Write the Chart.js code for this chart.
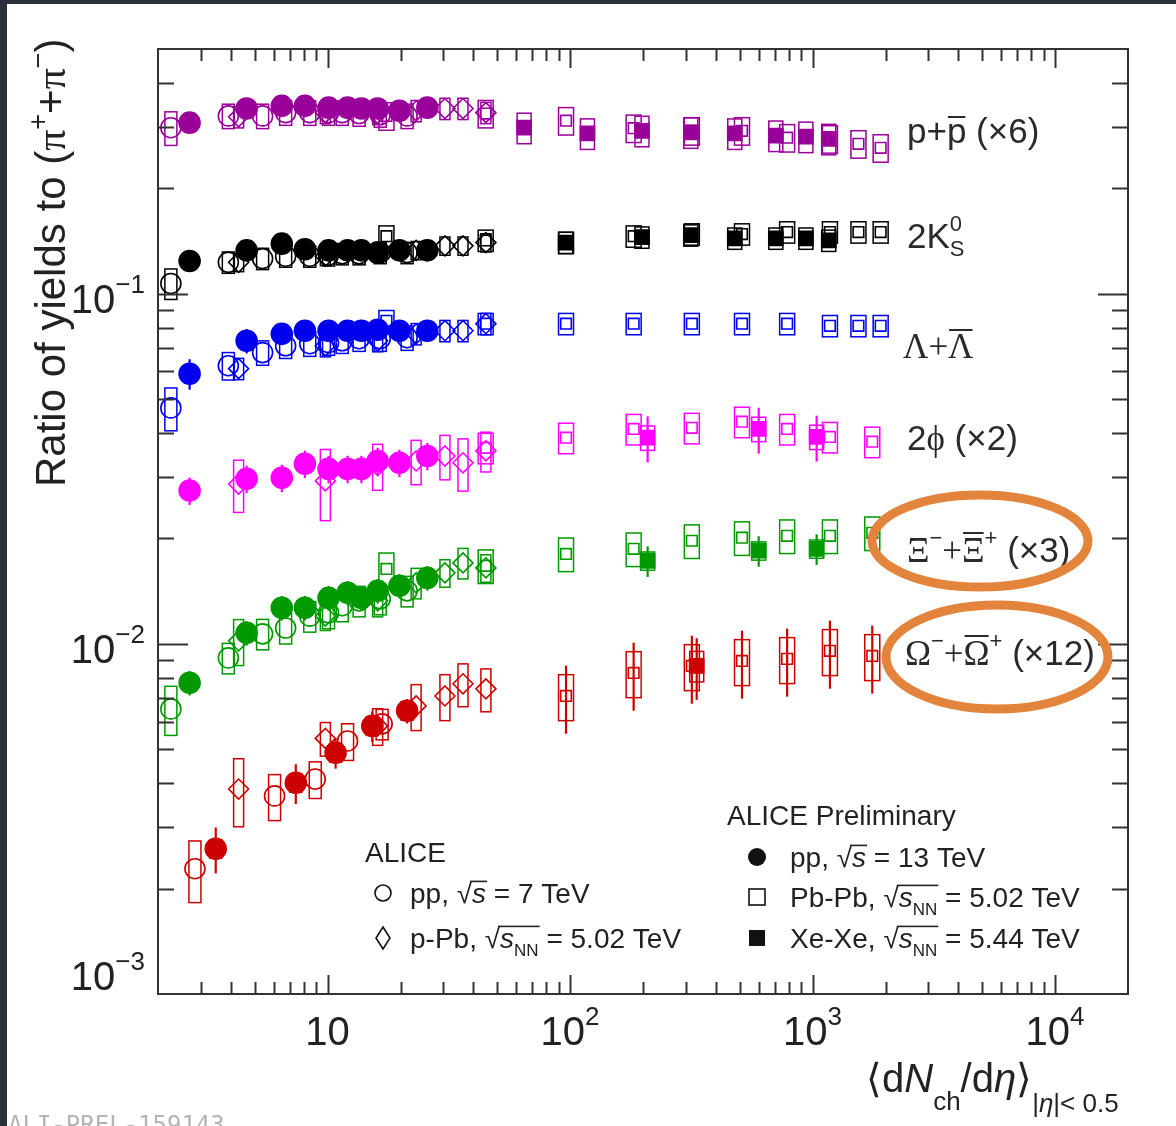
<!DOCTYPE html>
<html>
<head>
<meta charset="utf-8">
<script src="https://cdn.jsdelivr.net/npm/chart.js@4.4.1/dist/chart.umd.min.js"></script>
<style>
  html, body { margin: 0; padding: 0; background: #fff; }
  canvas { display: block; }
</style>
</head>
<body>
<canvas id="ratioChart" width="1176" height="1126"></canvas>
<script>
// ── multiplicity classes  <dNch/deta>
const multPP13 = [2.7, 4.64, 6.48, 8.07, 10.1, 12.1, 13.8, 16.1, 19.8, 25.8];
const multPP7 = [2.26, 3.90, 5.40, 6.72, 8.45, 10.1, 11.5, 13.5, 16.5, 21.3];
const multPPb = [4.3, 9.8, 16.1, 23.2, 30.5, 36.2, 45.0];
const multPbPb = [17.5, 44.9, 96.3, 183, 318, 512, 786, 1180, 1547, 1910];
const multPbPbMerged = [17.5, 44.9, 96.3, 183, 318, 512, 786, 1180, 1764];
const multXeXe = [64.7, 118, 198, 315, 478, 706, 939, 1167];
const multXeXeK0 = [96, 198, 315, 478, 706, 939, 1167];
const multXeXeWide = [209, 600, 1040];
const multOmegaPP13 = [3.46, 7.4, 10.8, 15.3, 21.3];
const multOmegaPP7 = [2.84, 6.05, 8.9, 12.1, 16.8];
const multOmegaPbPb = [96.3, 183, 318, 512, 786, 1180, 1764];
const multOmegaXeXe = [333];

// ── p + pbar (x6)
const protonPP13 = [0.308, 0.338, 0.344, 0.344, 0.340, 0.340, 0.338, 0.338, 0.333, 0.340];
const protonPP7 = [0.298, 0.322, 0.322, 0.329, 0.329, 0.329, 0.329, 0.327, 0.325, 0.322];
const protonPPb = [0.320, 0.329, 0.327, 0.333, 0.338, 0.338, 0.329];
const protonPbPb = [0.322, 0.327, 0.312, 0.297, 0.292, 0.292, 0.279, 0.277, 0.268, 0.261];
const protonXeXe = [0.298, 0.287, 0.292, 0.289, 0.287, 0.283, 0.281, 0.277];

// ── 2 K0S
const kaonPP13 = [0.124, 0.133, 0.139, 0.134, 0.133, 0.133, 0.133, 0.131, 0.133, 0.133];
const kaonPP7 = [0.107, 0.123, 0.126, 0.128, 0.128, 0.129, 0.130, 0.130, 0.131, 0.131];
const kaonPPb = [0.123, 0.128, 0.131, 0.133, 0.137, 0.137, 0.140];
const kaonPbPb = [0.146, 0.142, 0.140, 0.146, 0.148, 0.148, 0.150, 0.150, 0.150, 0.150];
const kaonXeXe = [0.140, 0.145, 0.147, 0.144, 0.144, 0.144, 0.142];

// ── Lambda + anti-Lambda
const lambdaPP13 = [0.0591, 0.0734, 0.0768, 0.0784, 0.0784, 0.0784, 0.0784, 0.0789, 0.0784, 0.0784];
const lambdaPP7 = [0.0472, 0.0623, 0.0679, 0.0710, 0.0720, 0.0725, 0.0734, 0.0744, 0.0744, 0.0749];
const lambdaPPb = [0.0611, 0.0710, 0.0734, 0.0768, 0.0784, 0.0784, 0.0821];
const lambdaPbPb = [0.0837, 0.0821, 0.0821, 0.0821, 0.0821, 0.0821, 0.0821, 0.0810, 0.0810, 0.0810];

// ── 2 phi (x2)
const phiPP13 = [0.0274, 0.0296, 0.0298, 0.0327, 0.0316, 0.0316, 0.0316, 0.0333, 0.0329, 0.0344];
const phiPPb = [0.0286, 0.0292, 0.0323, 0.0333, 0.0344, 0.0329, 0.0356];
const phiPPbSys = [0.17, 0.23, 0.15, 0.145, 0.145, 0.17, 0.13];
const phiPbPb = [null, 0.0363, 0.0388, 0.0411, 0.0414, 0.0431, 0.0411, 0.0390, 0.0378];
const phiXeXe = [0.0388, 0.0411, 0.0390];

// ── Xi (x3)
const xiPP13 = [0.00774, 0.01075, 0.01268, 0.01268, 0.01353, 0.0140, 0.01353, 0.01417, 0.01465, 0.01543];
const xiPP7 = [0.00652, 0.00912, 0.01068, 0.0111, 0.0120, 0.01227, 0.01285, 0.01327, 0.01345, 0.01417];
const xiPPb = [0.0102, 0.0120, 0.01327, 0.01494, 0.01595, 0.01703, 0.01648];
const xiPbPb = [0.01637, 0.01671, 0.01807, 0.01868, 0.0197, 0.0201, 0.02035, 0.02035, 0.02075];
const xiXeXe = [0.01726, 0.01845, 0.01868];

// ── Omega (x12)
const omegaPP13 = [0.00260, 0.00401, 0.00489, 0.00583, 0.00644];
const omegaPP13Stat = [0.15, 0.13, 0.1, 0.1, 0.08];
const omegaPP7 = [0.00228, 0.00368, 0.00411, 0.00528, 0.00591];
const omegaPP7Sys = [0.2, 0.15, 0.12, 0.12, 0.1];
const omegaPPb = [0.00385, 0.00537, 0.00583, 0.00665, 0.00710, 0.00769, 0.00744];
const omegaPPbSys = [0.22, 0.11, 0.12, 0.15, 0.15, 0.14, 0.14];
const omegaPbPb = [0.00710, 0.00826, 0.00865, 0.00894, 0.00906, 0.00955, 0.00924];
const omegaXeXe = [0.00865];

// ── axis ticks
const xLabelExps = [1, 2, 3, 4];
const yLabelExps = [-1, -2, -3];

const SANS = '"Liberation Sans", Arial, Helvetica, sans-serif';
const SERIF = '"Liberation Serif", "Times New Roman", serif';

const COLORS = {
  proton: '#990099', kaon: '#000000', lambda: '#0000ee',
  phi: '#ff00ff', xi: '#009900', omega: '#cc0000'
};

const STYLE = {
  pp13: { shape: 'circle', filled: true, r: 10.5, box: 12 },
  XeXe: { shape: 'rect', filled: true, r: 10, box: 14 },
  pPb:  { shape: 'rectRot', filled: false, r: 10, box: 10 },
  pp7:  { shape: 'circle', filled: false, r: 10, box: 12 },
  PbPb: { shape: 'rect', filled: false, r: 7.5, box: 15 }
};

// [color, system, x, y, stat, sys]
const SERIES = [
  ['proton', 'pp13', multPP13, protonPP13, 0.05, 0.04],
  ['kaon', 'pp13', multPP13, kaonPP13, 0.04, 0.04],
  ['lambda', 'pp13', multPP13, lambdaPP13, [0.1, 0.08, 0.06, 0.06, 0.06, 0.06, 0.06, 0.06, 0.06, 0.06], 0.04],
  ['phi', 'pp13', multPP13, phiPP13, 0.09, 0.05],
  ['xi', 'pp13', multPP13, xiPP13, 0.08, 0.05],
  ['omega', 'pp13', multOmegaPP13, omegaPP13, omegaPP13Stat, 0.06],

  ['proton', 'XeXe', multXeXe, protonXeXe, 0.03, 0.1],
  ['kaon', 'XeXe', multXeXeK0, kaonXeXe, 0.03, 0.07],
  ['phi', 'XeXe', multXeXeWide, phiXeXe, 0.15, 0.08],
  ['xi', 'XeXe', multXeXeWide, xiXeXe, 0.1, 0.06],
  ['omega', 'XeXe', multOmegaXeXe, omegaXeXe, 0.2, 0.1],

  ['proton', 'pPb', multPPb, protonPPb, 0, 0.07],
  ['kaon', 'pPb', multPPb, kaonPPb, 0, 0.06],
  ['lambda', 'pPb', multPPb, lambdaPPb, 0, 0.07],
  ['phi', 'pPb', multPPb, phiPPb, 0, phiPPbSys],
  ['xi', 'pPb', multPPb, xiPPb, 0, [0.15, 0.09, 0.1, 0.1, 0.09, 0.1, 0.09]],
  ['omega', 'pPb', multPPb, omegaPPb, 0, omegaPPbSys],

  ['proton', 'pp7', multPP7, protonPP7, 0, [0.11, 0.08, 0.08, 0.08, 0.08, 0.08, 0.08, 0.08, 0.08, 0.08]],
  ['kaon', 'pp7', multPP7, kaonPP7, 0, [0.1, 0.07, 0.07, 0.07, 0.07, 0.07, 0.07, 0.07, 0.07, 0.07]],
  ['lambda', 'pp7', multPP7, lambdaPP7, 0, [0.14, 0.09, 0.08, 0.08, 0.08, 0.08, 0.08, 0.08, 0.08, 0.08]],
  ['xi', 'pp7', multPP7, xiPP7, 0, [0.16, 0.1, 0.1, 0.1, 0.1, 0.1, 0.1, 0.1, 0.1, 0.1]],
  ['omega', 'pp7', multOmegaPP7, omegaPP7, 0, omegaPP7Sys],

  ['proton', 'PbPb', multPbPb, protonPbPb, 0, 0.09],
  ['kaon', 'PbPb', multPbPb, kaonPbPb, 0, 0.07],
  ['lambda', 'PbPb', multPbPb, lambdaPbPb, 0, 0.07],
  ['phi', 'PbPb', multPbPbMerged, phiPbPb, 0, 0.1],
  ['xi', 'PbPb', multPbPbMerged, xiPbPb, 0, 0.11],
  ['omega', 'PbPb', multOmegaPbPb, omegaPbPb, 0.22, 0.15]
];

const at = (v, i) => Array.isArray(v) ? v[i] : v;

const datasets = SERIES.map(([key, sys, xs, ys, stat, sysErr]) => {
  const st = STYLE[sys];
  const color = COLORS[key];
  return {
    data: xs.map((x, i) => ({ x, y: ys[i] })),
    err: xs.map((x, i) => [at(stat, i), at(sysErr, i)]),
    boxW: st.box,
    errColor: color,
    pointStyle: st.shape,
    pointRadius: st.r,
    pointHoverRadius: st.r,
    pointBorderWidth: 1.6,
    pointBorderColor: color,
    pointBackgroundColor: st.filled ? color : 'rgba(0,0,0,0)',
    showLine: false
  };
});

// ── rich text helper (sup/sub/overline)
function drawRich(ctx, x, y, parts) {
  let cx = x;
  parts.forEach(p => {
    ctx.font = p.f;
    const w = ctx.measureText(p.t).width;
    ctx.fillText(p.t, cx, y + (p.dy || 0));
    if (p.over !== undefined) ctx.fillRect(cx + 1, y + p.over, w - 2, 2);
    if (!p.hold) cx += w;
  });
  return cx;
}

function sqrtS(ctx, x, y, size, nn) {
  ctx.font = `${size}px ${SANS}`;
  ctx.fillText('√', x, y);
  const wr = ctx.measureText('√').width;
  let cx = x + wr;
  ctx.font = `italic ${size}px ${SANS}`;
  ctx.fillText('s', cx, y);
  cx += ctx.measureText('s').width;
  if (nn) {
    ctx.font = `${Math.round(size * 0.6)}px ${SANS}`;
    ctx.fillText('NN', cx, y + size * 0.28);
    cx += ctx.measureText('NN').width;
  }
  ctx.fillRect(x + wr - 2, y - size * 0.8, cx - x - wr + 3, 1.6);
  return cx;
}

function powLabel(ctx, exp, x, y, align) {
  const big = `40px ${SANS}`, small = `26px ${SANS}`;
  const sup = exp === 1 ? '' : (exp < 0 ? '−' + (-exp) : String(exp));
  ctx.font = big; const w1 = ctx.measureText('10').width;
  ctx.font = small; const w2 = sup ? ctx.measureText(sup).width : 0;
  let x0 = x;
  if (align === 'right') x0 = x - w1 - w2;
  if (align === 'center') x0 = x - (w1 + w2) / 2;
  ctx.font = big; ctx.fillText('10', x0, y);
  if (sup) { ctx.font = small; ctx.fillText(sup, x0 + w1, y - 20); }
}

// ── error boxes and stat bars
const errorPlugin = {
  id: 'errorBoxes',
  beforeDatasetsDraw(chart) {
    const { ctx, chartArea } = chart;
    const xs = chart.scales.x, ys = chart.scales.y;
    ctx.save();
    ctx.beginPath();
    ctx.rect(chartArea.left, chartArea.top, chartArea.width, chartArea.height);
    ctx.clip();
    chart.data.datasets.forEach(ds => {
      ds.data.forEach((p, i) => {
        if (p.y === null) return;
        const [stat, sys] = ds.err[i];
        const px = xs.getPixelForValue(p.x);
        ctx.strokeStyle = ds.errColor;
        if (sys) {
          const top = ys.getPixelForValue(p.y * (1 + sys));
          const bot = ys.getPixelForValue(p.y * (1 - sys));
          ctx.lineWidth = 1.5;
          ctx.strokeRect(px - ds.boxW / 2, top, ds.boxW, bot - top);
        }
        if (stat) {
          ctx.lineWidth = 2.2;
          ctx.beginPath();
          ctx.moveTo(px, ys.getPixelForValue(p.y * (1 + stat)));
          ctx.lineTo(px, ys.getPixelForValue(p.y * (1 - stat)));
          ctx.stroke();
        }
      });
    });
    ctx.restore();
  }
};

// ── frame, inward ticks, labels, annotations
const decorPlugin = {
  id: 'decor',
  beforeDraw(chart) {
    const ctx = chart.ctx;
    ctx.save();
    ctx.fillStyle = '#ffffff';
    ctx.fillRect(0, 0, chart.width, chart.height);
    ctx.fillStyle = '#29313b';
    ctx.fillRect(0, 0, chart.width, 4);
    ctx.fillRect(0, 0, 7, chart.height);
    ctx.restore();
  },
  afterDraw(chart) {
    const { ctx, chartArea: a } = chart;
    const xs = chart.scales.x, ys = chart.scales.y;
    ctx.save();
    ctx.strokeStyle = '#333';
    ctx.lineWidth = 2;
    ctx.strokeRect(a.left, a.top, a.right - a.left, a.bottom - a.top);

    // x ticks (bottom + top)
    for (let e = 0; e <= 4; e++) {
      for (let m = 1; m <= 9; m++) {
        const v = m * Math.pow(10, e);
        if (v <= xs.min * 1.01 || v >= xs.max * 0.99) continue;
        const px = Math.round(xs.getPixelForValue(v)) + 0.5;
        const len = m === 1 ? 19 : 12;
        ctx.beginPath();
        ctx.moveTo(px, a.bottom); ctx.lineTo(px, a.bottom - len);
        ctx.moveTo(px, a.top); ctx.lineTo(px, a.top + len);
        ctx.stroke();
      }
    }
    // y ticks (left + right)
    for (let e = -3; e <= -1; e++) {
      for (let m = 1; m <= 9; m++) {
        const v = m * Math.pow(10, e);
        if (v <= ys.min * 1.01 || v >= ys.max * 0.99) continue;
        const py = Math.round(ys.getPixelForValue(v)) + 0.5;
        const len = m === 1 ? 30 : 16;
        ctx.beginPath();
        ctx.moveTo(a.left, py); ctx.lineTo(a.left + len, py);
        ctx.moveTo(a.right, py); ctx.lineTo(a.right - len, py);
        ctx.stroke();
      }
    }

    // tick labels
    ctx.fillStyle = '#222';
    ctx.textBaseline = 'alphabetic';
    xLabelExps.forEach(e => {
      powLabel(ctx, e, xs.getPixelForValue(Math.pow(10, e)), a.bottom + 51, 'center');
    });
    yLabelExps.forEach(e => {
      const py = ys.getPixelForValue(Math.pow(10, e));
      powLabel(ctx, e, a.left - 13, e === -3 ? py - 4 : py + 19, 'right');
    });

    // y title
    ctx.save();
    ctx.translate(65, 487);
    ctx.rotate(-Math.PI / 2);
    const T = `42px ${SANS}`, TS = `42px ${SERIF}`, TT = `27px ${SANS}`;
    drawRich(ctx, 0, 0, [
      { t: 'Ratio of yields to (', f: T },
      { t: 'π', f: TS },
      { t: '+', f: TT, dy: -18 },
      { t: '+', f: T },
      { t: 'π', f: TS },
      { t: '−', f: TT, dy: -18 },
      { t: ')', f: T }
    ]);
    ctx.restore();

    // x title
    const XT = `40px ${SANS}`, XI = `italic 40px ${SANS}`, XS = `26px ${SANS}`, XSI = `italic 26px ${SANS}`;
    drawRich(ctx, 866, 1092, [
      { t: '⟨', f: XT },
      { t: 'd', f: XT },
      { t: 'N', f: XI },
      { t: 'ch', f: XS, dy: 18 },
      { t: '/d', f: XT },
      { t: 'η', f: XI },
      { t: '⟩', f: XT },
      { t: '|', f: XS, dy: 20 },
      { t: 'η', f: XSI, dy: 20 },
      { t: '|< 0.5', f: XS, dy: 20 }
    ]);

    // particle labels
    ctx.fillStyle = '#2a2a2a';
    const L = `35px ${SANS}`, LS = `35px ${SERIF}`, LX = `22px ${SANS}`;
    drawRich(ctx, 907, 143, [
      { t: 'p+', f: L }, { t: 'p', f: L, over: -27 }, { t: ' (×6)', f: L }
    ]);
    drawRich(ctx, 907, 248, [
      { t: '2K', f: L }, { t: '0', f: LX, dy: -17, hold: true }, { t: 'S', f: LX, dy: 8 }
    ]);
    drawRich(ctx, 903, 358, [
      { t: 'Λ+', f: LS }, { t: 'Λ', f: LS, over: -29 }
    ]);
    drawRich(ctx, 907, 450, [
      { t: '2', f: L }, { t: 'ϕ', f: LS }, { t: ' (×2)', f: L }
    ]);
    drawRich(ctx, 907, 562, [
      { t: 'Ξ', f: LS }, { t: '−', f: LX, dy: -17 }, { t: '+', f: LS },
      { t: 'Ξ', f: LS, over: -30 }, { t: '+', f: LX, dy: -17 }, { t: ' (×3)', f: L }
    ]);
    drawRich(ctx, 905, 665, [
      { t: 'Ω', f: LS }, { t: '−', f: LX, dy: -17 }, { t: '+', f: LS },
      { t: 'Ω', f: LS, over: -30 }, { t: '+', f: LX, dy: -17 }, { t: ' (×12)', f: L }
    ]);

    // legend
    const G = `28px ${SANS}`;
    ctx.fillStyle = '#222';
    ctx.strokeStyle = '#111';
    ctx.lineWidth = 1.6;
    ctx.font = G;
    ctx.fillText('ALICE', 365, 862);
    ctx.fillText('ALICE Preliminary', 727, 825);

    ctx.beginPath(); ctx.arc(383, 893, 8, 0, Math.PI * 2); ctx.stroke();
    let cx = drawRich(ctx, 410, 903, [{ t: 'pp, ', f: G }]);
    cx = sqrtS(ctx, cx, 903, 28, false);
    drawRich(ctx, cx, 903, [{ t: ' = 7 TeV', f: G }]);

    ctx.beginPath();
    ctx.moveTo(383, 927); ctx.lineTo(390, 938); ctx.lineTo(383, 949); ctx.lineTo(376, 938); ctx.closePath();
    ctx.stroke();
    cx = drawRich(ctx, 410, 948, [{ t: 'p-Pb, ', f: G }]);
    cx = sqrtS(ctx, cx, 948, 28, true);
    drawRich(ctx, cx, 948, [{ t: ' = 5.02 TeV', f: G }]);

    ctx.fillStyle = '#111';
    ctx.beginPath(); ctx.arc(757, 857, 9, 0, Math.PI * 2); ctx.fill();
    ctx.fillStyle = '#222';
    cx = drawRich(ctx, 790, 867, [{ t: 'pp, ', f: G }]);
    cx = sqrtS(ctx, cx, 867, 28, false);
    drawRich(ctx, cx, 867, [{ t: ' = 13 TeV', f: G }]);

    ctx.strokeRect(749, 889, 16, 16);
    cx = drawRich(ctx, 790, 907, [{ t: 'Pb-Pb, ', f: G }]);
    cx = sqrtS(ctx, cx, 907, 28, true);
    drawRich(ctx, cx, 907, [{ t: ' = 5.02 TeV', f: G }]);

    ctx.fillStyle = '#111';
    ctx.fillRect(749, 930, 16, 16);
    ctx.fillStyle = '#222';
    cx = drawRich(ctx, 790, 948, [{ t: 'Xe-Xe, ', f: G }]);
    cx = sqrtS(ctx, cx, 948, 28, true);
    drawRich(ctx, cx, 948, [{ t: ' = 5.44 TeV', f: G }]);

    // preliminary id, cut at the bottom
    ctx.fillStyle = '#b4b4b4';
    ctx.font = `24px "DejaVu Sans Mono", monospace`;
    ctx.fillText('ALI-PREL-159143', 8, 1133);

    // orange highlight rings
    ctx.strokeStyle = '#e3843d';
    ctx.lineWidth = 9;
    ctx.beginPath(); ctx.ellipse(980, 541, 108, 46, 0, 0, Math.PI * 2); ctx.stroke();
    ctx.beginPath(); ctx.ellipse(997, 657, 111, 52, 0, 0, Math.PI * 2); ctx.stroke();

    ctx.restore();
  }
};

new Chart(document.getElementById('ratioChart'), {
  type: 'scatter',
  data: { datasets },
  options: {
    responsive: false,
    animation: false,
    devicePixelRatio: 1,
    layout: { padding: { left: 8, top: 49, right: 48, bottom: 0 } },
    plugins: { legend: { display: false }, tooltip: { enabled: false } },
    events: [],
    scales: {
      x: {
        type: 'logarithmic', min: 2, max: 20000,
        grid: { display: false }, border: { display: false },
        ticks: { display: false },
        afterFit: s => { s.height = 132; }
      },
      y: {
        type: 'logarithmic', min: 0.001, max: 0.5,
        grid: { display: false }, border: { display: false },
        ticks: { display: false },
        afterFit: s => { s.width = 150; }
      }
    }
  },
  plugins: [errorPlugin, decorPlugin]
});
</script>
</body>
</html>
